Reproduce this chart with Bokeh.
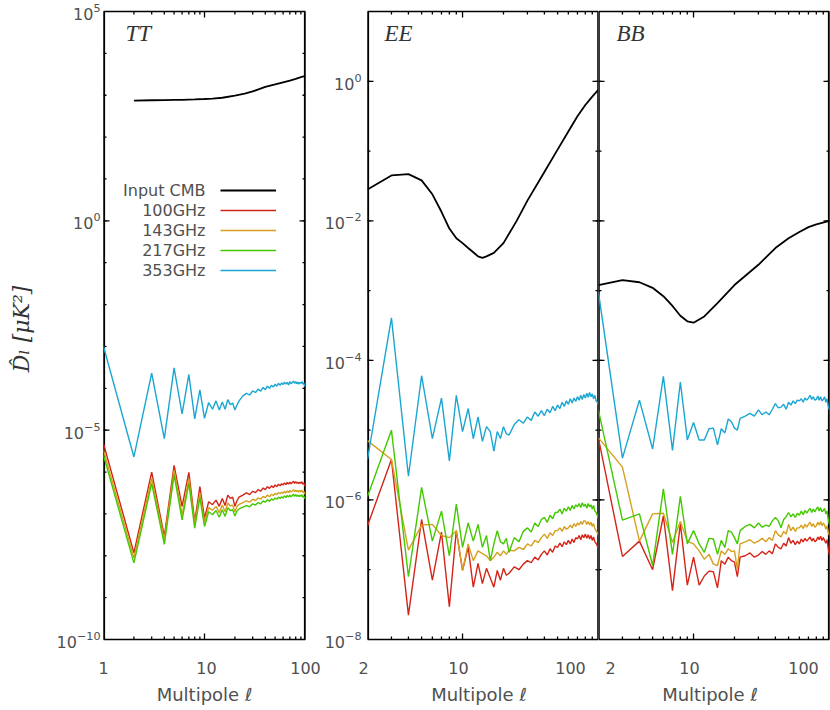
import numpy as np
from bokeh.plotting import figure
from bokeh.models import (Range1d, LogAxis, FixedTicker, Legend, LegendItem, Label)
from bokeh.core.properties import value
from bokeh.layouts import row, column
from bokeh.embed import file_html
from bokeh.resources import INLINE

# ---------------- data (values read as log10 of D_ell in uK^2) ----------------
ELL_TT = list(range(1, 23)) + list(range(24, 101, 2))
ELL_POL = list(range(2, 23)) + list(range(24, 101, 2))

TT_CMB_ELL = [2, 3, 4, 5, 6, 8, 10, 12, 15, 20, 25, 30, 40, 50, 60, 70, 80, 90, 100]
TT_CMB_LOG = [2.87, 2.88, 2.885, 2.89, 2.89, 2.90, 2.91, 2.92, 2.94, 2.99, 3.04, 3.09,
              3.20, 3.26, 3.31, 3.35, 3.39, 3.43, 3.46]

TT_100_LOG = [-5.32, -7.93, -6.00, -7.54, -5.84, -6.82, -6.01, -7.18, -6.35, -7.10, -6.71,
              -6.78, -6.67, -6.82, -6.63, -6.80, -6.55, -6.63, -6.60, -6.82, -6.68, -6.60,
              -6.55, -6.50, -6.54, -6.46, -6.49, -6.42, -6.46, -6.38, -6.42, -6.35,
              -6.39, -6.33, -6.37, -6.31, -6.35, -6.29, -6.33, -6.28, -6.31, -6.26,
              -6.30, -6.25, -6.29, -6.24, -6.28, -6.25, -6.22, -6.27, -6.23, -6.27,
              -6.24, -6.28, -6.24, -6.27, -6.23, -6.29, -6.26, -6.31, -6.34]
TT_143_LOG = [-5.48, -8.05, -6.15, -7.62, -5.96, -7.02, -6.16, -7.24, -6.50, -7.20, -6.85,
              -6.91, -6.82, -6.97, -6.79, -6.95, -6.74, -6.81, -6.79, -6.95, -6.82, -6.77,
              -6.73, -6.69, -6.72, -6.65, -6.68, -6.62, -6.65, -6.58, -6.61, -6.55,
              -6.59, -6.53, -6.56, -6.51, -6.54, -6.49, -6.52, -6.48, -6.51, -6.46,
              -6.50, -6.45, -6.49, -6.44, -6.48, -6.45, -6.42, -6.47, -6.43, -6.47,
              -6.44, -6.48, -6.44, -6.47, -6.43, -6.49, -6.46, -6.51, -6.53]
TT_217_LOG = [-5.60, -8.17, -6.27, -7.73, -6.07, -7.14, -6.27, -7.34, -6.61, -7.30, -6.95,
              -7.02, -6.92, -7.08, -6.90, -7.06, -6.85, -6.92, -6.90, -7.05, -6.93, -6.88,
              -6.84, -6.80, -6.83, -6.76, -6.79, -6.73, -6.76, -6.69, -6.72, -6.66,
              -6.70, -6.64, -6.67, -6.62, -6.65, -6.60, -6.63, -6.59, -6.62, -6.57,
              -6.61, -6.56, -6.60, -6.55, -6.59, -6.56, -6.53, -6.58, -6.54, -6.58,
              -6.55, -6.59, -6.55, -6.58, -6.54, -6.60, -6.57, -6.62, -6.64]
TT_353_LOG = [-3.00, -5.64, -3.64, -5.20, -3.51, -4.61, -3.67, -4.73, -4.04, -4.72, -4.34,
              -4.50, -4.30, -4.52, -4.33, -4.50, -4.27, -4.39, -4.35, -4.52, -4.40, -4.30,
              -4.18, -4.12, -4.16, -4.06, -4.10, -4.02, -4.07, -3.98, -4.03, -3.95,
              -4.00, -3.93, -3.97, -3.90, -3.95, -3.88, -3.93, -3.87, -3.91, -3.85,
              -3.90, -3.86, -3.92, -3.84, -3.89, -3.86, -3.83, -3.88, -3.84, -3.89,
              -3.85, -3.90, -3.86, -3.88, -3.84, -3.90, -3.87, -3.93, -3.96]

EE_CMB_ELL = [2, 3, 4, 5, 6, 7, 8, 9, 10, 11, 12, 13, 14, 15, 17, 20, 25, 30, 40, 50,
              60, 70, 80, 90, 100]
EE_CMB_LOG = [-1.55, -1.35, -1.33, -1.42, -1.62, -1.87, -2.11, -2.25, -2.32, -2.39, -2.45,
              -2.51, -2.53, -2.51, -2.46, -2.32, -2.00, -1.71, -1.30, -0.98, -0.72, -0.50,
              -0.34, -0.22, -0.12]

EE_100_LOG = [-6.37, -5.42, -7.65, -6.28, -7.15, -6.46, -7.53, -6.44, -7.01, -6.68, -7.25,
              -6.91, -7.20, -6.98, -7.12, -7.25, -7.01, -7.15, -6.98, -7.08, -7.05,
              -6.96, -7.00, -6.92, -6.87, -6.90, -6.82, -6.86, -6.78, -6.73, -6.79,
              -6.70, -6.75, -6.66, -6.68, -6.62, -6.67, -6.60, -6.64, -6.58, -6.63,
              -6.56, -6.61, -6.54, -6.56, -6.51, -6.57, -6.50, -6.54, -6.49, -6.55,
              -6.50, -6.56, -6.51, -6.58, -6.53, -6.60, -6.62, -6.66, -6.70]
EE_143_LOG = [-5.15, -5.42, -6.72, -6.36, -6.35, -6.51, -6.54, -6.44, -7.01, -6.63, -6.87,
              -6.73, -6.77, -6.80, -6.87, -6.82, -6.75, -6.80, -6.73, -6.78, -6.72,
              -6.73, -6.68, -6.71, -6.63, -6.66, -6.58, -6.61, -6.54, -6.49, -6.55,
              -6.47, -6.51, -6.44, -6.44, -6.40, -6.45, -6.38, -6.42, -6.40, -6.36,
              -6.40, -6.34, -6.38, -6.33, -6.36, -6.31, -6.35, -6.30, -6.30, -6.35,
              -6.31, -6.36, -6.32, -6.38, -6.34, -6.41, -6.44, -6.47, -6.51]
EE_217_LOG = [-5.95, -5.00, -7.10, -5.82, -6.59, -6.16, -6.80, -6.06, -6.68, -6.33, -6.59,
              -6.35, -6.68, -6.51, -6.87, -6.63, -6.44, -6.60, -6.63, -6.55, -6.75,
              -6.54, -6.60, -6.45, -6.40, -6.46, -6.33, -6.38, -6.28, -6.25, -6.32,
              -6.22, -6.27, -6.18, -6.18, -6.13, -6.20, -6.12, -6.16, -6.10, -6.15,
              -6.08, -6.13, -6.07, -6.10, -6.05, -6.11, -6.04, -6.09, -6.06, -6.12,
              -6.05, -6.10, -6.07, -6.13, -6.08, -6.16, -6.18, -6.22, -6.27]
EE_353_LOG = [-5.42, -3.39, -5.66, -4.22, -5.12, -4.54, -5.44, -4.50, -5.02, -4.69, -5.12,
              -4.81, -5.16, -4.95, -5.02, -5.30, -5.02, -5.12, -4.95, -5.05, -5.07,
              -4.92, -4.85, -4.90, -4.81, -4.86, -4.74, -4.80, -4.72, -4.79, -4.70,
              -4.75, -4.66, -4.72, -4.64, -4.69, -4.60, -4.66, -4.58, -4.63, -4.55,
              -4.61, -4.54, -4.59, -4.52, -4.57, -4.50, -4.56, -4.49, -4.54, -4.47,
              -4.53, -4.46, -4.52, -4.48, -4.55, -4.50, -4.58, -4.60, -4.64]

BB_CMB_ELL = [2, 3, 4, 5, 6, 7, 8, 9, 10, 12, 15, 20, 30, 40, 50, 60, 70, 80, 100]
BB_CMB_LOG = [-2.92, -2.85, -2.88, -2.96, -3.08, -3.22, -3.36, -3.44, -3.46, -3.37, -3.18,
              -2.92, -2.63, -2.39, -2.25, -2.16, -2.09, -2.05, -2.00]

BB_100_LOG = [-5.12, -6.81, -6.59, -7.00, -6.23, -7.30, -6.34, -7.22, -6.82, -7.22, -7.09,
              -7.02, -7.03, -7.26, -6.87, -6.92, -6.82, -6.87, -6.89, -7.10, -6.82,
              -6.80, -6.76, -6.82, -6.79, -6.74, -6.78, -6.73, -6.77, -6.63, -6.68,
              -6.70, -6.62, -6.66, -6.54, -6.62, -6.58, -6.64, -6.59, -6.63, -6.56,
              -6.60, -6.55, -6.59, -6.56, -6.53, -6.59, -6.55, -6.60, -6.58, -6.53,
              -6.57, -6.52, -6.58, -6.54, -6.58, -6.62, -6.57, -6.70, -6.79]
BB_143_LOG = [-5.11, -5.53, -6.59, -6.20, -6.19, -6.61, -6.31, -6.59, -6.63, -6.73, -6.85,
              -6.78, -6.92, -6.94, -6.73, -6.78, -6.70, -6.74, -6.73, -6.99, -6.63,
              -6.60, -6.57, -6.62, -6.59, -6.55, -6.60, -6.54, -6.58, -6.44, -6.50,
              -6.53, -6.45, -6.49, -6.35, -6.44, -6.39, -6.45, -6.40, -6.40, -6.36,
              -6.41, -6.35, -6.39, -6.35, -6.32, -6.38, -6.34, -6.39, -6.37, -6.32,
              -6.36, -6.31, -6.37, -6.33, -6.36, -6.42, -6.37, -6.47, -6.51]
BB_217_LOG = [-4.72, -6.29, -6.20, -6.94, -5.84, -6.78, -5.95, -6.63, -6.44, -6.63, -6.75,
              -6.55, -6.56, -6.78, -6.58, -6.68, -6.44, -6.46, -6.54, -6.63, -6.44,
              -6.38, -6.35, -6.40, -6.33, -6.39, -6.36, -6.38, -6.30, -6.25, -6.30,
              -6.40, -6.28, -6.24, -6.18, -6.24, -6.20, -6.25, -6.19, -6.22, -6.16,
              -6.21, -6.15, -6.19, -6.15, -6.12, -6.18, -6.13, -6.17, -6.13, -6.10,
              -6.16, -6.11, -6.17, -6.15, -6.12, -6.20, -6.16, -6.28, -6.35]
BB_353_LOG = [-3.03, -5.40, -4.57, -5.27, -4.23, -5.29, -4.31, -5.14, -4.89, -5.14, -5.14,
              -4.98, -4.97, -5.21, -4.98, -5.04, -4.84, -4.88, -4.97, -5.00, -4.83,
              -4.80, -4.76, -4.80, -4.71, -4.78, -4.74, -4.78, -4.70, -4.62, -4.68,
              -4.67, -4.63, -4.70, -4.60, -4.64, -4.58, -4.62, -4.57, -4.58, -4.55,
              -4.60, -4.54, -4.57, -4.54, -4.50, -4.56, -4.52, -4.57, -4.56, -4.51,
              -4.57, -4.52, -4.58, -4.56, -4.52, -4.60, -4.55, -4.66, -4.71]

SERIES = ["Input CMB", "100GHz", "143GHz", "217GHz", "353GHz"]
COLORS = ["#000000", "#d42418", "#d6a01e", "#44c800", "#1aa6d2"]
PANEL_TITLES = ["TT", "EE", "BB"]

X_TICKS_TT = [1, 10, 100]
X_TICKS_POL = [2, 10, 100]
X_TICK_TEXT_TT = ["1", "10", "100"]
X_TICK_TEXT_POL = ["2", "10", "100"]

X_LABEL = "Multipole ℓ"
Y_LABEL = "D̂ₗ  [μK²]"

# ---------------- layout / styling constants ----------------
FONT = "DejaVu Sans"
TXT = "#505050"
BOX_H = 628          # height of the drawn panel box
PAD = 11             # extra frame room above/below the box (keeps edge labels whole)
FRAME_H = BOX_H + 2 * PAD
STRIP_H = 58
MAJOR_LEN = 6
MINOR_LEN = 3


def log_decades(lo, hi):
    return [10.0 ** k for k in range(lo, hi + 1)]


def x_minor(lo_dec, hi_dec):
    return [m * 10.0 ** d for d in range(lo_dec, hi_dec + 1) for m in range(2, 10)]


def make_fig(xr, yr, fw, bl, br):
    ppy = BOX_H / np.log10(yr[1] / yr[0])
    g = float(10 ** (PAD / ppy))
    p = figure(x_axis_type="log", y_axis_type="log",
               x_range=Range1d(*xr), y_range=Range1d(yr[0] / g, yr[1] * g),
               frame_width=fw, frame_height=FRAME_H,
               min_border_left=bl, min_border_right=br,
               min_border_top=0, min_border_bottom=0,
               x_axis_location=None, y_axis_location=None,
               output_backend="svg", toolbar_location=None)
    p.outline_line_color = None
    p.background_fill_color = "white"
    p.border_fill_color = "white"
    p.grid.visible = False
    return p


def add_box(p, xr, yr, left_w, right_w):
    # panel box: top/bottom from the quad, sides as (half-clipped) thick lines
    p.quad(left=[xr[0]], right=[xr[1]], bottom=[yr[0]], top=[yr[1]],
           fill_color=None, line_color="black", line_width=1.6)
    for xe, w in ((xr[0], left_w), (xr[1], right_w)):
        p.line([xe, xe], [yr[0], yr[1]], line_color="black", line_width=w)


def add_yaxis(p, yt, standoff, ylab=None):
    a = LogAxis(ticker=FixedTicker(ticks=yt, minor_ticks=[]))
    a.axis_line_color = None
    a.major_tick_in = 0
    a.major_tick_out = 0
    a.minor_tick_in = 0
    a.minor_tick_out = 0
    a.major_label_text_font = FONT
    a.major_label_text_font_size = "16px"
    a.major_label_text_color = TXT
    a.major_label_standoff = standoff
    if ylab:
        a.axis_label = ylab
        a.axis_label_text_font = "DejaVu Serif"
        a.axis_label_text_font_style = "italic"
        a.axis_label_text_font_size = "22px"
        a.axis_label_text_color = "#333333"
        a.axis_label_standoff = 20
    p.add_layout(a, "left")


def add_ticks(p, xr, yr, fw, xmaj, xmin, ymaj, ymin):
    # inward tick marks on the four sides of the box, as dash markers
    ppx = fw / np.log10(xr[1] / xr[0])
    ppy = BOX_H / np.log10(yr[1] / yr[0])
    xs, ys, ang, size = [], [], [], []
    for ticks, ln in ((xmaj, MAJOR_LEN), (xmin, MINOR_LEN)):
        f = float(10 ** (ln / 2 / ppy))
        for t in ticks:
            if xr[0] < t < xr[1]:
                xs += [t, t]
                ys += [yr[0] * f, yr[1] / f]
                ang += [np.pi / 2, np.pi / 2]
                size += [ln, ln]
    for ticks, ln in ((ymaj, MAJOR_LEN), (ymin, MINOR_LEN)):
        f = float(10 ** (ln / 2 / ppx))
        for t in ticks:
            if yr[0] < t < yr[1]:
                xs += [xr[0] * f, xr[1] / f]
                ys += [t, t]
                ang += [0.0, 0.0]
                size += [ln, ln]
    p.scatter(x=xs, y=ys, marker="dash", angle=ang, size=size,
              line_color="black", line_width=1.3)


def add_title(p, text, dx):
    p.add_layout(Label(x=dx, y=FRAME_H - 20, x_units="screen", y_units="screen",
                       text=text, text_font="Liberation Serif", text_font_style="italic",
                       text_font_size="23px", text_color="#333333", text_baseline="top"))


def draw_lines(p, data):
    rs = []
    for (ell, lg), col in zip(data, COLORS):
        rs.append(p.line(ell, 10.0 ** np.array(lg), line_color=col,
                         line_width=1.8 if col == "#000000" else 1.4))
    return rs


def make_strip(xr, fw, bl, br, ticks, texts, offsets):
    # strip under a panel carrying its x tick labels and axis title,
    # on the same log scale as the panel above it
    ppx = fw / np.log10(xr[1] / xr[0])
    lo = float(xr[0] / 10 ** (bl / ppx))
    hi = float(xr[1] * 10 ** (br / ppx))
    s = figure(x_axis_type="log", x_range=Range1d(lo, hi), y_range=Range1d(0, STRIP_H),
               frame_width=fw + bl + br, frame_height=STRIP_H,
               min_border=0, x_axis_location=None, y_axis_location=None,
               output_backend="svg", toolbar_location=None)
    s.outline_line_color = None
    s.grid.visible = False
    s.background_fill_color = "white"
    s.border_fill_color = "white"
    s.text(x=ticks, y=[STRIP_H - (28 - PAD)] * len(ticks), text=texts, x_offset=offsets,
           text_align="center", text_baseline="middle", text_font=value(FONT),
           text_font_size="16px", text_color=TXT)
    s.text(x=[float(np.sqrt(xr[0] * xr[1]))], y=[STRIP_H - (55 - PAD)], text=[X_LABEL],
           text_align="center", text_baseline="middle", text_font=value(FONT),
           text_font_size="18px", text_color=TXT)
    return s


# ---------------- panel 1 : TT ----------------
XR1, YR1, FW1, BL1, BR1 = (1, 100), (1e-10, 1e5), 202, 103, 16
p1 = make_fig(XR1, YR1, FW1, BL1, BR1)
ymaj1 = [1e-10, 1e-5, 1, 1e5]
add_box(p1, XR1, YR1, 3.2, 3.2)
add_yaxis(p1, ymaj1, 3, Y_LABEL)
add_ticks(p1, XR1, YR1, FW1, X_TICKS_TT, x_minor(0, 1), ymaj1, log_decades(-10, 5))
add_title(p1, PANEL_TITLES[0], 22)
renderers = draw_lines(p1, [(TT_CMB_ELL, TT_CMB_LOG), (ELL_TT, TT_100_LOG),
                            (ELL_TT, TT_143_LOG), (ELL_TT, TT_217_LOG), (ELL_TT, TT_353_LOG)])

legend = Legend(items=[LegendItem(label=" ", renderers=[r]) for r in renderers],
                location=(117, FRAME_H - 280), orientation="vertical",
                glyph_width=56, glyph_height=20, label_height=20, label_standoff=0,
                spacing=0, padding=0, margin=0,
                border_line_color=None, background_fill_alpha=0,
                label_text_font=FONT, label_text_font_size="14px")
p1.add_layout(legend, "center")
for i, name in enumerate(SERIES):
    p1.add_layout(Label(x=102, y=FRAME_H - 190 - 20 * i, x_units="screen", y_units="screen",
                        text=name, text_align="right", text_baseline="middle",
                        text_font=FONT, text_font_size="16px", text_color=TXT))

# ---------------- panel 2 : EE ----------------
XR2, YR2, FW2 = (2, 100), (1e-8, 1e1), 231
ymaj2 = [1e-8, 1e-6, 1e-4, 1e-2, 1]
ymin2 = log_decades(-8, 1)
p2 = make_fig(XR2, YR2, FW2, 42, 0)
add_box(p2, XR2, YR2, 3.2, 2.4)
add_yaxis(p2, ymaj2, 6)
add_ticks(p2, XR2, YR2, FW2, X_TICKS_POL, x_minor(0, 1), ymaj2, ymin2)
add_title(p2, PANEL_TITLES[1], 17)
draw_lines(p2, [(EE_CMB_ELL, EE_CMB_LOG), (ELL_POL, EE_100_LOG), (ELL_POL, EE_143_LOG),
                (ELL_POL, EE_217_LOG), (ELL_POL, EE_353_LOG)])

# ---------------- panel 3 : BB ----------------
p3 = make_fig(XR2, YR2, FW2, 0, 5)
add_box(p3, XR2, YR2, 2.4, 3.2)
add_ticks(p3, XR2, YR2, FW2, X_TICKS_POL, x_minor(0, 1), ymaj2, ymin2)
add_title(p3, PANEL_TITLES[2], 18)
draw_lines(p3, [(BB_CMB_ELL, BB_CMB_LOG), (ELL_POL, BB_100_LOG), (ELL_POL, BB_143_LOG),
                (ELL_POL, BB_217_LOG), (ELL_POL, BB_353_LOG)])

# ---------------- x tick label strips ----------------
s1 = make_strip(XR1, FW1, BL1, BR1, X_TICKS_TT, X_TICK_TEXT_TT, [0, 2, 0])
s2 = make_strip(XR2, FW2, 42, 0, X_TICKS_POL, X_TICK_TEXT_POL, [0, 0, -24])
s3 = make_strip(XR2, FW2, 0, 5, X_TICKS_POL, X_TICK_TEXT_POL, [16, 0, -22])

layout = column(row(p1, p2, p3, spacing=0), row(s1, s2, s3, spacing=0), spacing=0)
open("out.html", "w").write(file_html(layout, INLINE))
